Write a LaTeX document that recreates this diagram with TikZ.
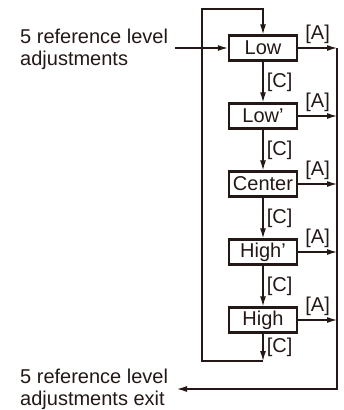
\documentclass[tikz,border=0pt]{standalone}
\usepackage{fontspec}
\setmainfont{Liberation Sans}
\usetikzlibrary{arrows.meta,positioning,calc}
\definecolor{ink}{HTML}{231815}

\begin{document}
\begin{tikzpicture}[x=1pt,y=-1pt,font=\fontsize{20}{22}\selectfont,text=ink,
 box/.style={draw=ink,line width=2.4pt,minimum width=68pt,minimum height=25pt,inner sep=0pt},
 arrow/.style={-{Latex[length=10pt,width=6pt]},draw=ink,line width=1.2pt},
 line/.style={draw=ink,line width=1.2pt}]
\path[use as bounding box] (0,0) rectangle (344,410);
\node[box] (low) at (263,48) {Low};
\node[box] (lowp) at (263,116) {Low’};
\node[box] (center) at (263,184) {Center};
\node[box] (highp) at (263,252) {High’};
\node[box] (high) at (263,320) {High};
\node[anchor=west,align=left,inner sep=0pt] (entry) at (20,49) {5 reference level\\adjustments};
\node[anchor=west,align=left,inner sep=0pt] (exit) at (20,389) {5 reference level\\adjustments exit};
\coordinate (in) at (175,48);
\coordinate (out) at (177,389);
\coordinate (rgt) at (337,48);
\coordinate (loopbot) at (263,361);
\coordinate (looptop) at (202,9);
% entry and the loop back to Low
\draw[arrow] (in) -- (low);
\draw[arrow] (loopbot) -| (looptop) -| (low);
% [C] steps down the column
\draw[arrow] (low) -- node[right] {[C]} (lowp);
\draw[arrow] (lowp) -- node[right] {[C]} (center);
\draw[arrow] (center) -- node[right] {[C]} (highp);
\draw[arrow] (highp) -- node[right] {[C]} (high);
\draw[arrow] (high) -- node[right] {[C]} (loopbot);
% [A] exits to the right
\foreach \n in {low,lowp,center,highp,high}
  \draw[arrow] (\n.east) -- node[above] {[A]} (\n.east -| rgt);
\draw[arrow] (rgt) |- (out);
\end{tikzpicture}
\end{document}
